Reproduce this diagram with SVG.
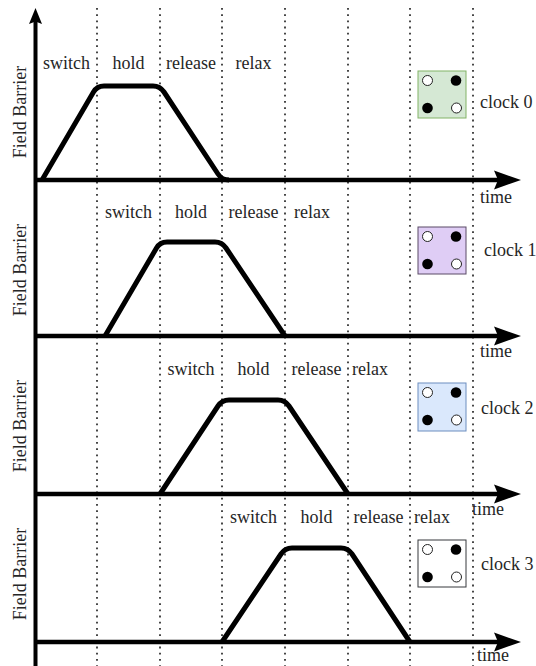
<svg xmlns="http://www.w3.org/2000/svg" width="536" height="666" viewBox="0 0 536 666">
  <style>
    .lbl { font-family: "Liberation Serif", "Times New Roman", serif; font-size: 18px; fill: #262626; }
    .mid { text-anchor: middle; }
    .grid { stroke: #333; stroke-width: 1.8; stroke-dasharray: 1.8 4.4; fill: none; }
    .axis { stroke: #000; stroke-width: 4.5; fill: none; }
    .wave { stroke: #000; stroke-width: 5; fill: none; stroke-linejoin: round; }
    .open { fill: #fff; stroke: #222; stroke-width: 1; }
    .dot { fill: #000; }
  </style>
  <defs>
    <!-- arrowheads for the time axes and the vertical axis -->
    <path id="headR" d="M0,0 L-27,-9.5 L-23,0 L-27,9.5 Z" fill="#000"/>
    <path id="headU" d="M0,0 L-6.5,16 L0,13.5 L6.5,16 Z" fill="#000"/>
    <!-- four-dot clock marker -->
    <g id="dots">
      <circle class="open" cx="9.5" cy="9.5" r="5"/>
      <circle class="dot" cx="38" cy="9.5" r="5.3"/>
      <circle class="dot" cx="9.5" cy="37" r="5.3"/>
      <circle class="open" cx="38.5" cy="37" r="5"/>
    </g>
  </defs>

  <rect width="536" height="666" fill="#fff"/>

  <!-- phase boundaries -->
  <g id="grid">
    <line class="grid" x1="97" y1="8" x2="97" y2="666"/>
    <line class="grid" x1="160" y1="8" x2="160" y2="666"/>
    <line class="grid" x1="222" y1="8" x2="222" y2="666"/>
    <line class="grid" x1="285" y1="8" x2="285" y2="666"/>
    <line class="grid" x1="348" y1="8" x2="348" y2="666"/>
    <line class="grid" x1="410" y1="8" x2="410" y2="666"/>
    <line class="grid" x1="473" y1="8" x2="473" y2="666"/>
  </g>

  <!-- axes -->
  <g id="connectors">
    <line x1="35.5" y1="20" x2="35.5" y2="666" stroke="#000" stroke-width="4"/>
    <use href="#headU" x="35.5" y="8"/>
    <line class="axis" x1="34" y1="180" x2="498" y2="180"/>
    <use href="#headR" x="521" y="180"/>
    <line class="axis" x1="34" y1="336" x2="498" y2="336"/>
    <use href="#headR" x="521" y="336"/>
    <line class="axis" x1="34" y1="494" x2="498" y2="494"/>
    <use href="#headR" x="521" y="494"/>
    <line class="axis" x1="34" y1="642" x2="498" y2="642"/>
    <use href="#headR" x="521" y="642"/>
  </g>

  <!-- clock 0 -->
  <g id="panel0">
    <text class="lbl" transform="translate(26,112) rotate(-90)" text-anchor="middle">Field Barrier</text>
    <path class="wave" d="M42,180 L93.5,92 Q97,86 104,86 L153,86 Q160,86 164,92 L218,174 Q222,180 229,180"/>
    <text class="lbl mid" x="66.5" y="69">switch</text>
    <text class="lbl mid" x="128.5" y="69">hold</text>
    <text class="lbl mid" x="191" y="69">release</text>
    <text class="lbl mid" x="253.5" y="69">relax</text>
    <rect x="418" y="71" width="48" height="47" fill="#d5e8d4" stroke="#82b366" stroke-width="1"/>
    <use href="#dots" x="418" y="71"/>
    <text class="lbl" x="480" y="108">clock 0</text>
    <text class="lbl" x="480" y="203">time</text>
  </g>

  <!-- clock 1 -->
  <g id="panel1">
    <text class="lbl" transform="translate(26,270) rotate(-90)" text-anchor="middle">Field Barrier</text>
    <path class="wave" d="M105,336 L156.5,248 Q160,242 167,242 L215,242 Q222,242 226,248 L285,336"/>
    <text class="lbl mid" x="128.5" y="218">switch</text>
    <text class="lbl mid" x="191" y="218">hold</text>
    <text class="lbl mid" x="253.5" y="218">release</text>
    <text class="lbl mid" x="312" y="218">relax</text>
    <rect x="418" y="227" width="48" height="47" fill="#dfcdf5" stroke="#5a4a66" stroke-width="1"/>
    <use href="#dots" x="418" y="227"/>
    <text class="lbl" x="484" y="256">clock 1</text>
    <text class="lbl" x="480" y="357">time</text>
  </g>

  <!-- clock 2 -->
  <g id="panel2">
    <text class="lbl" transform="translate(26,426) rotate(-90)" text-anchor="middle">Field Barrier</text>
    <path class="wave" d="M160,494 L218,406 Q222,400 229,400 L278,400 Q285,400 289,406 L348,494"/>
    <text class="lbl mid" x="191" y="375">switch</text>
    <text class="lbl mid" x="253.5" y="375">hold</text>
    <text class="lbl mid" x="316.5" y="375">release</text>
    <text class="lbl mid" x="370" y="375">relax</text>
    <rect x="418" y="383" width="48" height="48" fill="#dae8fc" stroke="#6c8ebf" stroke-width="1"/>
    <use href="#dots" x="418" y="383"/>
    <text class="lbl" x="481" y="414">clock 2</text>
    <text class="lbl" x="472" y="515">time</text>
  </g>

  <!-- clock 3 -->
  <g id="panel3">
    <text class="lbl" transform="translate(26,574) rotate(-90)" text-anchor="middle">Field Barrier</text>
    <path class="wave" d="M222,642 L281,554 Q285,548 292,548 L341,548 Q348,548 352,554 L410,642"/>
    <text class="lbl mid" x="253.5" y="523">switch</text>
    <text class="lbl mid" x="316.5" y="523">hold</text>
    <text class="lbl mid" x="378.5" y="523">release</text>
    <text class="lbl mid" x="432" y="523">relax</text>
    <rect x="418" y="540" width="48" height="47" fill="#fff" stroke="#36393d" stroke-width="1"/>
    <use href="#dots" x="418" y="540"/>
    <text class="lbl" x="481" y="570">clock 3</text>
    <text class="lbl" x="477" y="661">time</text>
  </g>
</svg>
